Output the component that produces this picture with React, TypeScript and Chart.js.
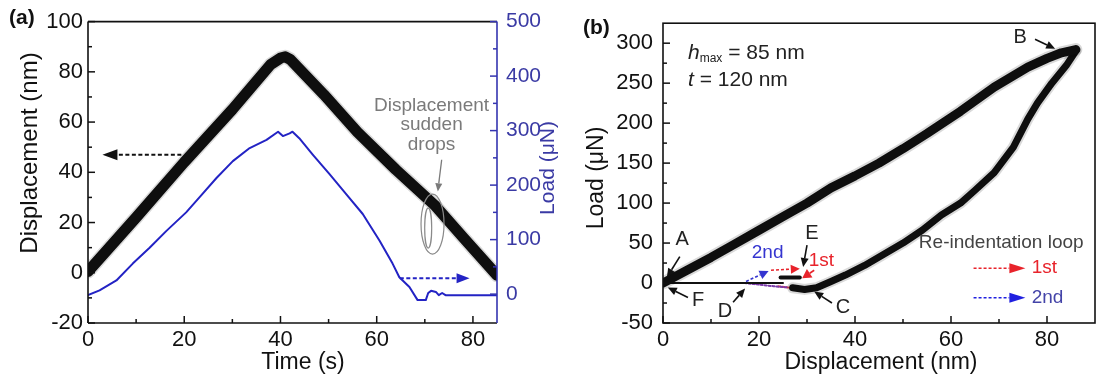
import React, { useEffect, useRef } from 'react';
import { Chart, registerables } from 'chart.js';

Chart.register(...registerables);

const FONT = '"Liberation Sans", Arial, Helvetica, sans-serif';
const BLACK = '#111111';
const BLUE_LINE = '#2323c4';
const BLUE_AXIS = '#3434b0';
const BLUE_TEXT = '#3a3aa4';
const RED = '#e8232b';
const GRAY = '#7a7a7a';

// ---------- Panel (a): displacement / load vs time ----------
const timeDisp = [0, 10, 20, 30, 38, 40, 41, 42, 49, 56, 64, 72, 78, 85];
const dispNm = [0.5, 22, 44, 65, 83, 85.5, 86, 85, 71, 56, 41, 27, 14, -1];

const timeLoad = [0, 2.4, 5.9, 9.3, 12.8, 16.3, 20.4, 23.2, 26.7, 30.1, 33.6, 37.1, 39.5, 40.5, 41.9, 42.5, 43.9, 46.7, 50.2, 53.7, 57.1, 60.6, 63.3, 64.7, 66.8, 68.5, 70.2, 70.7, 71.3, 72.3, 72.9, 73.6, 74.3, 85];
const loadUN = [-2, 7, 25, 56, 85, 116, 150, 178, 213, 244, 268, 283, 298, 290, 295, 298, 286, 256, 220, 183, 147, 98, 56, 31, 13, -11, -11, 2, 6, 4, -2, 2, -2, -2];

const timeTicksA = [0, 20, 40, 60, 80];
const timeMinorA = [10, 30, 50, 70];
const dispTicksA = [-20, 0, 20, 40, 60, 80, 100];
const dispMinorA = [-10, 10, 30, 50, 70, 90];
const loadTicksA = [0, 100, 200, 300, 400, 500];
const loadMinorA = [50, 150, 250, 350, 450];

// ---------- Panel (b): load vs displacement ----------
const loadingDisp = [0, 5, 10, 15, 20, 25, 30, 35, 40, 45, 50, 55, 62, 69, 76, 80, 83, 86];
const loadingLoad = [0, 16, 32, 49, 66, 83, 100, 119, 134, 150, 168, 187, 215, 245, 270, 281, 288, 292];
const unloadingDisp = [86, 84, 81, 78, 76, 73, 69, 65, 62, 58, 54, 50, 46, 42, 38, 35, 32, 29.5, 27];
const unloadingLoad = [290, 272, 250, 225, 205, 170, 138, 116, 100, 85, 66, 50, 36, 22, 10, 2, -6, -8, -6];
const baseDisp = [0, 25];
const baseLoad = [0, 0];
const stepDisp = [24.5, 28.5];
const stepLoad = [7, 7];
const dropPurpleDisp = [17, 20, 23, 26];
const dropPurpleLoad = [0, -2, -4, -5.5];
const dropRedDisp = [24, 27, 30, 31.5];
const dropRedLoad = [-4, -6.5, -7.5, -6];

const dispTicksB = [0, 20, 40, 60, 80];
const dispMinorB = [10, 30, 50, 70];
const loadTicksB = [-50, 0, 50, 100, 150, 200, 250, 300];
const loadMinorB = [-25, 25, 75, 125, 175, 225, 275];

const pts = (xs: number[], ys: number[]) => xs.map((x, i) => ({ x, y: ys[i] }));

function seg(ctx: any, x1: number, y1: number, x2: number, y2: number) {
  ctx.beginPath();
  ctx.moveTo(x1, y1);
  ctx.lineTo(x2, y2);
  ctx.stroke();
}

function arrow(ctx: any, x1: number, y1: number, x2: number, y2: number, color: string, width: number, head: number, headW: number, dash?: number[]) {
  const ang = Math.atan2(y2 - y1, x2 - x1);
  const bx = x2 - head * Math.cos(ang);
  const by = y2 - head * Math.sin(ang);
  ctx.save();
  ctx.strokeStyle = color;
  ctx.fillStyle = color;
  ctx.lineWidth = width;
  ctx.setLineDash(dash || []);
  seg(ctx, x1, y1, bx, by);
  ctx.setLineDash([]);
  ctx.beginPath();
  ctx.moveTo(x2, y2);
  ctx.lineTo(bx + headW * Math.sin(ang), by - headW * Math.cos(ang));
  ctx.lineTo(bx - headW * Math.sin(ang), by + headW * Math.cos(ang));
  ctx.closePath();
  ctx.fill();
  ctx.restore();
}

function text(ctx: any, s: string, x: number, y: number, size: number, color: string, align = 'center', weight = 'normal', style = 'normal') {
  ctx.save();
  ctx.font = `${style} ${weight} ${size}px ${FONT}`;
  ctx.fillStyle = color;
  ctx.textAlign = align;
  ctx.textBaseline = 'middle';
  ctx.fillText(s, x, y);
  ctx.restore();
}

function rotText(ctx: any, s: string, x: number, y: number, size: number, color: string) {
  ctx.save();
  ctx.translate(x, y);
  ctx.rotate(-Math.PI / 2);
  text(ctx, s, 0, 0, size, color);
  ctx.restore();
}

function xMarks(ctx: any, scale: any, a: any, majors: number[], minors: number[], color: string) {
  ctx.save();
  ctx.strokeStyle = color;
  ctx.lineWidth = 1.5;
  majors.forEach((v) => { const p = scale.getPixelForValue(v); seg(ctx, p, a.bottom, p, a.bottom - 7); });
  minors.forEach((v) => { const p = scale.getPixelForValue(v); seg(ctx, p, a.bottom, p, a.bottom - 4); });
  ctx.restore();
}

function yMarks(ctx: any, scale: any, a: any, majors: number[], minors: number[], side: string, color: string) {
  const x0 = side === 'left' ? a.left : a.right;
  const dir = side === 'left' ? 1 : -1;
  ctx.save();
  ctx.strokeStyle = color;
  ctx.lineWidth = 1.5;
  majors.forEach((v) => { const p = scale.getPixelForValue(v); seg(ctx, x0, p, x0 + dir * 7, p); });
  minors.forEach((v) => { const p = scale.getPixelForValue(v); seg(ctx, x0, p, x0 + dir * 4, p); });
  ctx.restore();
}

const panelAPlugin = {
  id: 'panelA',
  afterDraw(chart: any) {
    const { ctx, chartArea: a, scales } = chart;
    const X = (v: number) => scales.x.getPixelForValue(v);
    const Y = (v: number) => scales.y.getPixelForValue(v);
    const Y1 = (v: number) => scales.y1.getPixelForValue(v);
    ctx.save();
    ctx.lineWidth = 1.6;
    ctx.strokeStyle = BLACK;
    seg(ctx, a.left, a.top, a.right, a.top);
    seg(ctx, a.left, a.top, a.left, a.bottom);
    seg(ctx, a.left, a.bottom, a.right, a.bottom);
    ctx.strokeStyle = BLUE_AXIS;
    seg(ctx, a.right, a.top, a.right, a.bottom);
    ctx.restore();

    xMarks(ctx, scales.x, a, timeTicksA, timeMinorA, BLACK);
    yMarks(ctx, scales.y, a, dispTicksA, dispMinorA, 'left', BLACK);
    yMarks(ctx, scales.y1, a, loadTicksA, loadMinorA, 'right', BLUE_AXIS);

    // arrows pointing to the axes
    arrow(ctx, X(19.4), Y(47), X(3), Y(47), BLACK, 2, 15, 5.5, [4, 2.5]);
    arrow(ctx, X(64.8), Y1(29), X(79.3), Y1(29), BLUE_LINE, 2, 13, 5, [4, 2.5]);

    // sudden drops annotation
    text(ctx, 'Displacement', X(71.4), Y(66.4), 19, GRAY);
    text(ctx, 'sudden', X(71.4), Y(58.9), 19, GRAY);
    text(ctx, 'drops', X(71.4), Y(51), 19, GRAY);
    arrow(ctx, X(73.5), Y(45), X(72.7), Y(32.4), GRAY, 1.3, 8, 3.5);
    ctx.save();
    ctx.strokeStyle = '#8a8a8a';
    ctx.lineWidth = 1.2;
    ctx.beginPath();
    ctx.ellipse(X(71.6), Y(19.4), 11.5, 30, 0, 0, Math.PI * 2);
    ctx.stroke();
    ctx.beginPath();
    ctx.ellipse(X(70.7), Y(17.8), 3.5, 20, 0, 0, Math.PI * 2);
    ctx.stroke();
    ctx.restore();

    // titles
    text(ctx, '(a)', 9, 18, 21, BLACK, 'left', 'bold');
    rotText(ctx, 'Displacement (nm)', 30, 153, 24, BLACK);
    rotText(ctx, 'Load (\u03bcN)', 548, 168, 21, BLUE_TEXT);
    text(ctx, 'Time (s)', 303, 363, 23, BLACK);
  },
};

const panelBPlugin = {
  id: 'panelB',
  afterDraw(chart: any) {
    const { ctx, chartArea: a, scales } = chart;
    const X = (v: number) => scales.x.getPixelForValue(v);
    const Y = (v: number) => scales.y.getPixelForValue(v);
    ctx.save();
    ctx.lineWidth = 1.6;
    ctx.strokeStyle = BLACK;
    ctx.strokeRect(a.left, a.top, a.right - a.left, a.bottom - a.top);
    ctx.restore();

    xMarks(ctx, scales.x, a, dispTicksB, dispMinorB, BLACK);
    yMarks(ctx, scales.y, a, loadTicksB, loadMinorB, 'left', BLACK);

    // re-indentation loop arrows inside the plot
    arrow(ctx, X(17.3), Y(2), X(22), Y(15), '#3535d0', 1.6, 9, 4.5, [3, 2]);
    arrow(ctx, X(22.5), Y(16), X(28.5), Y(18), RED, 1.6, 9, 4.5, [3, 2]);
    arrow(ctx, X(31.5), Y(16), X(29), Y(6), RED, 1.6, 9, 5);
    text(ctx, '2nd', X(21.8), Y(38), 19, '#3535d0');
    text(ctx, '1st', X(33), Y(28), 19, RED);

    // point labels with arrows
    const lab = (s: string, tx: number, ty: number, fx: number, fy: number, ex: number, ey: number) => {
      text(ctx, s, X(tx), Y(ty), 20, '#222');
      arrow(ctx, X(fx), Y(fy), X(ex), Y(ey), BLACK, 1.6, 9, 4);
    };
    lab('A', 4, 55, 3.5, 33, 0.8, 7);
    lab('F', 7.3, -21.6, 5.2, -18, 1, -5.5);
    lab('D', 12.9, -36, 14.6, -24, 17.1, -7);
    lab('E', 31, 62, 30, 47.5, 29.2, 20);
    lab('C', 37.5, -30, 35.2, -25, 31.5, -10.5);
    lab('B', 74.4, 307, 77.5, 305, 81.7, 293);

    // h_max and t annotation
    ctx.save();
    ctx.fillStyle = '#222';
    ctx.textBaseline = 'alphabetic';
    ctx.textAlign = 'left';
    let x = a.left + 25;
    const y1 = a.top + 36;
    ctx.font = `italic normal 21px ${FONT}`;
    ctx.fillText('h', x, y1);
    x += ctx.measureText('h').width;
    ctx.font = `normal normal 12px ${FONT}`;
    ctx.fillText('max', x, y1 + 3);
    x += ctx.measureText('max').width;
    ctx.font = `normal normal 21px ${FONT}`;
    ctx.fillText(' = 85 nm', x, y1);
    let x2 = a.left + 25;
    const y2 = a.top + 63;
    ctx.font = `italic normal 21px ${FONT}`;
    ctx.fillText('t', x2, y2);
    x2 += ctx.measureText('t').width;
    ctx.font = `normal normal 21px ${FONT}`;
    ctx.fillText(' = 120 nm', x2, y2);
    ctx.restore();

    // legend of the loops
    text(ctx, 'Re-indentation loop', X(53.3), Y(50.6), 19, '#444', 'left');
    arrow(ctx, X(64.7), Y(18.5), X(75.5), Y(18.5), RED, 1.6, 16, 5, [3, 2]);
    text(ctx, '1st', X(76.8), Y(18.5), 19, RED, 'left');
    arrow(ctx, X(64.7), Y(-18.5), X(75.5), Y(-18.5), '#2020e0', 1.6, 16, 5, [3, 2]);
    text(ctx, '2nd', X(76.8), Y(-18.5), 19, '#4444a8', 'left');

    // titles
    text(ctx, '(b)', 23, 28, 21, BLACK, 'left', 'bold');
    rotText(ctx, 'Load (\u03bcN)', 37, 178, 23, BLACK);
    text(ctx, 'Displacement (nm)', 321, 363, 23, BLACK);
  },
};

const tickFont = { family: FONT, size: 22 };

export default function App() {
  const refA = useRef<HTMLCanvasElement>(null);
  const refB = useRef<HTMLCanvasElement>(null);

  useEffect(() => {
    const common = {
      responsive: false,
      animation: false,
      plugins: { legend: { display: false }, tooltip: { enabled: false } },
      elements: { point: { radius: 0 }, line: { tension: 0, borderJoinStyle: 'round', borderCapStyle: 'round' } },
    };

    const chartA = new Chart(refA.current as HTMLCanvasElement, {
      type: 'line',
      data: {
        datasets: [
          { data: pts(timeDisp, dispNm), borderColor: 'rgba(0,0,0,0.15)', borderWidth: 14, yAxisID: 'y', clip: 0 },
          { data: pts(timeDisp, dispNm), borderColor: BLACK, borderWidth: 11, yAxisID: 'y', clip: 0 },
          { data: pts(timeLoad, loadUN), borderColor: BLUE_LINE, borderWidth: 2, yAxisID: 'y1', clip: 0 },
        ],
      },
      options: {
        ...common,
        layout: { padding: { top: 19, left: 0, right: 0, bottom: 0 } },
        scales: {
          x: {
            type: 'linear', min: 0, max: 85,
            afterFit: (s: any) => { s.height = 60; },
            afterBuildTicks: (s: any) => { s.ticks = timeTicksA.map((v) => ({ value: v })); },
            grid: { display: false, drawTicks: false }, border: { display: false },
            ticks: { padding: 4, color: BLACK, font: tickFont, maxRotation: 0, autoSkip: false },
          },
          y: {
            type: 'linear', position: 'left', min: -20, max: 100,
            afterFit: (s: any) => { s.width = 88; },
            afterBuildTicks: (s: any) => { s.ticks = dispTicksA.map((v) => ({ value: v })); },
            grid: { display: false, drawTicks: false }, border: { display: false },
            ticks: { padding: 5, color: BLACK, font: tickFont, autoSkip: false },
          },
          y1: {
            type: 'linear', position: 'right', min: -53, max: 500,
            afterFit: (s: any) => { s.width = 63; },
            afterBuildTicks: (s: any) => { s.ticks = loadTicksA.map((v) => ({ value: v })); },
            grid: { display: false, drawTicks: false }, border: { display: false },
            ticks: { padding: 9, color: BLUE_TEXT, font: { family: FONT, size: 21 }, autoSkip: false },
          },
        },
      } as any,
      plugins: [panelAPlugin],
    });

    const chartB = new Chart(refB.current as HTMLCanvasElement, {
      type: 'line',
      data: {
        datasets: [
          { data: pts(loadingDisp, loadingLoad), borderColor: 'rgba(0,0,0,0.15)', borderWidth: 13, clip: 0 },
          { data: pts(loadingDisp, loadingLoad), borderColor: BLACK, borderWidth: 9, clip: 0 },
          { data: pts(unloadingDisp, unloadingLoad), borderColor: 'rgba(0,0,0,0.15)', borderWidth: 11, clip: 0 },
          { data: pts(unloadingDisp, unloadingLoad), borderColor: BLACK, borderWidth: 7, clip: 0 },
          { data: pts(baseDisp, baseLoad), borderColor: BLACK, borderWidth: 2, clip: 0 },
          { data: pts(stepDisp, stepLoad), borderColor: BLACK, borderWidth: 4, clip: 0 },
          { data: pts(dropPurpleDisp, dropPurpleLoad), borderColor: '#7a3aa8', borderWidth: 2, borderDash: [2, 2], clip: 0 },
          { data: pts(dropRedDisp, dropRedLoad), borderColor: '#e04050', borderWidth: 2, borderDash: [2, 2], clip: 0 },
        ],
      },
      options: {
        ...common,
        layout: { padding: { top: 19, left: 0, right: 2, bottom: 0 } },
        scales: {
          x: {
            type: 'linear', min: 0, max: 90,
            afterFit: (s: any) => { s.height = 60; },
            afterBuildTicks: (s: any) => { s.ticks = dispTicksB.map((v) => ({ value: v })); },
            grid: { display: false, drawTicks: false }, border: { display: false },
            ticks: { padding: 4, color: BLACK, font: tickFont, maxRotation: 0, autoSkip: false },
          },
          y: {
            type: 'linear', position: 'left', min: -50, max: 325,
            afterFit: (s: any) => { s.width = 103; },
            afterBuildTicks: (s: any) => { s.ticks = loadTicksB.map((v) => ({ value: v })); },
            grid: { display: false, drawTicks: false }, border: { display: false },
            ticks: { padding: 10, color: BLACK, font: tickFont, autoSkip: false },
          },
        },
      } as any,
      plugins: [panelBPlugin],
    });

    return () => {
      chartA.destroy();
      chartB.destroy();
    };
  }, []);

  return (
    <div style={{ position: 'absolute', left: 0, top: 0, width: 1097, height: 383, background: '#fff' }}>
      <div style={{ position: 'absolute', left: 0, top: 0, width: 560, height: 383 }}>
        <canvas ref={refA} width={560} height={383} style={{ width: 560, height: 383, display: 'block' }} />
      </div>
      <div style={{ position: 'absolute', left: 560, top: 0, width: 537, height: 383 }}>
        <canvas ref={refB} width={537} height={383} style={{ width: 537, height: 383, display: 'block' }} />
      </div>
    </div>
  );
}
